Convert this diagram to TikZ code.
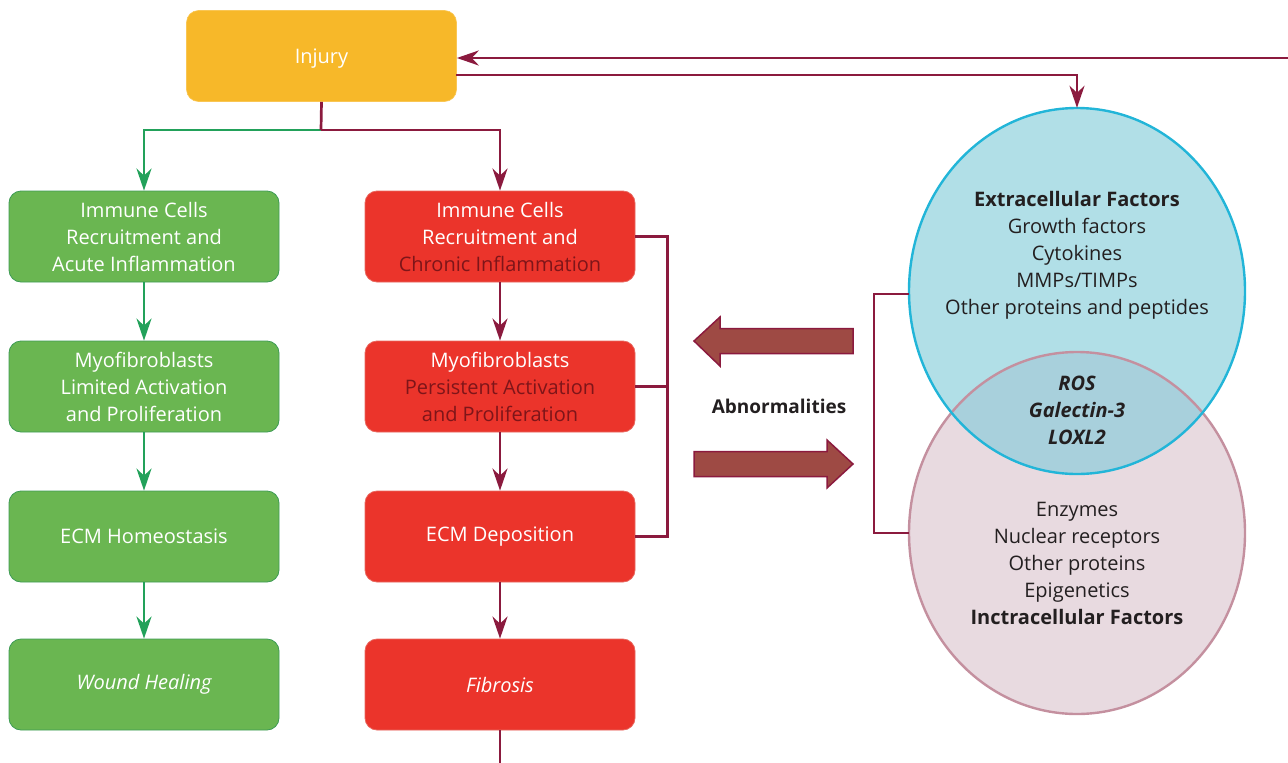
\documentclass[tikz,border=0pt]{standalone}
\usepackage{fontspec}
\setmainfont{Open Sans}
\usetikzlibrary{arrows.meta,shapes.geometric}
\definecolor{injfill}{HTML}{F7B829}
\definecolor{grnfill}{HTML}{6AB651}
\definecolor{grnedge}{HTML}{3D9B55}
\definecolor{grnline}{HTML}{22A15A}
\definecolor{redfill}{HTML}{EB342B}
\definecolor{rededge}{HTML}{E8675E}
\definecolor{darkred}{HTML}{7E1519}
\definecolor{maroon}{HTML}{8B1A3E}
\definecolor{bigarrow}{HTML}{9E4A44}
\definecolor{bluefill}{HTML}{B1DFE7}
\definecolor{blueedge}{HTML}{22B5D8}
\definecolor{pinkfill}{HTML}{E8DAE0}
\definecolor{pinkedge}{HTML}{C4909F}
\definecolor{overlap}{HTML}{A8D0DC}
\definecolor{ink}{HTML}{231F20}
\tikzset{
  txt/.style={font=\fontsize{20}{27}\selectfont, align=center},
  box/.style={txt, rounded corners=12pt, minimum width=270pt, minimum height=91pt, inner sep=0pt, text=white},
  injbox/.style={box, fill=injfill, draw=injfill!80!white, line width=0.6pt},
  gbox/.style={box, fill=grnfill, draw=grnedge, line width=0.8pt},
  rbox/.style={box, fill=redfill, draw=rededge, line width=0.8pt},
  tip/.style={-{Stealth[length=22pt,width=15pt,inset=7pt]}},
  gline/.style={draw=grnline, line width=2.7pt},
  mline/.style={draw=maroon, line width=2.7pt},
  fat/.style={fill=bigarrow, draw=maroon, line width=1.5pt},
}
\begin{document}
\begin{tikzpicture}[x=1pt,y=-1pt]
\useasboundingbox (0,0) rectangle (1288,763);

% top row
\node[injbox, text depth=0pt] (inj) at (321.5,56) {Injury};

% healing pathway
\node[gbox] (g1) at (144,236.5) {Immune Cells\\Recruitment and\\Acute Inflammation};
\node[gbox] (g2) at (144,386.5) {Myofibroblasts\\Limited Activation\\and Proliferation};
\node[gbox] (g3) at (144,536.5) {ECM Homeostasis};
\node[gbox] (g4) at (144,684.5) {\itshape Wound Healing};

% fibrotic pathway
\node[rbox] (r1) at (500,236.5) {Immune Cells\\Recruitment and\\\textcolor{darkred}{Chronic Inflammation}};
\node[rbox] (r2) at (500,386.5) {Myofibroblasts\\\textcolor{darkred}{Persistent Activation}\\\textcolor{darkred}{and Proliferation}};
\node[rbox] (r3) at (500,536.5) {ECM Deposition};
\node[rbox] (r4) at (500,684.5) {\itshape Fibrosis};

% branching from the injury
\coordinate (split) at (321,130);
\draw[gline,tip] (split) -| (g1.north);
\draw[mline] (inj.south) -- (split);
\draw[mline,tip] (split) -| (r1.north);

\draw[gline,tip] (g1) -- (g2);
\draw[gline,tip] (g2) -- (g3);
\draw[gline,tip] (g3) -- (g4);
\draw[mline,tip] (r1) -- (r2);
\draw[mline,tip] (r2) -- (r3);
\draw[mline,tip] (r3) -- (r4);
\coordinate (outbot) at (500,763);
\draw[mline] (r4.south) -- (outbot);

% bracket grouping the fibrotic steps
\draw[mline,line width=2.4pt] (r1.east) -- ++(32,0) |- (r3.east);
\draw[mline,line width=2.4pt] (r2.east) -- ++(32,0);

% factor circles
\node[ellipse, fill=pinkfill, minimum width=336pt, minimum height=362pt, inner sep=0pt] (pink) at (1077,533) {};
\node[ellipse, fill=bluefill, minimum width=336pt, minimum height=366pt, inner sep=0pt] (blue) at (1077,291) {};
\begin{scope}
  \clip (1077,533) ellipse [x radius=168, y radius=181];
  \fill[overlap] (1077,291) ellipse [x radius=168, y radius=183];
\end{scope}
\draw[pinkedge, line width=2.4pt] (1077,533) ellipse [x radius=168, y radius=181];
\draw[blueedge, line width=2.4pt] (1077,291) ellipse [x radius=168, y radius=183];

\node[txt, text=ink, anchor=north] (ext) at (1077,188) {\textbf{Extracellular Factors}\\Growth factors\\Cytokines\\MMPs/TIMPs\\Other proteins and peptides};
\node[txt, text=ink, font=\fontsize{20}{27}\selectfont\bfseries\itshape] (mid) at (1077,410) {ROS\\Galectin-3\\LOXL2};
\node[txt, text=ink, anchor=north] (intr) at (1077,499) {Enzymes\\Nuclear receptors\\Other proteins\\Epigenetics\\\textbf{Inctracellular Factors}};

% bracket linking the two circles
\coordinate (bk1) at (874,294);
\coordinate (bk2) at (874,533);
\draw[mline,line width=2.4pt] (blue.west |- bk1) -- (bk1) -- (bk2) -- (pink.west |- bk2);

% feedback loop with the injury
\coordinate (inR) at (1288,58);
\draw[mline,tip] (inR) -- (inR -| inj.east);
\coordinate (outR) at (456,75);
\draw[mline,tip] (outR) -| (blue.north);

% abnormality arrows
\draw[fat] (694,341) -- (720,317) -- (720,328.5) -- (853,328.5) -- (853,353.5) -- (720,353.5) -- (720,366) -- cycle;
\draw[fat] (853,464) -- (827,440) -- (827,451.5) -- (694,451.5) -- (694,476.5) -- (827,476.5) -- (827,488) -- cycle;
\node[font=\fontsize{19}{24}\selectfont\bfseries, text=ink] (abn) at (779,406) {Abnormalities};
\end{tikzpicture}
\end{document}
